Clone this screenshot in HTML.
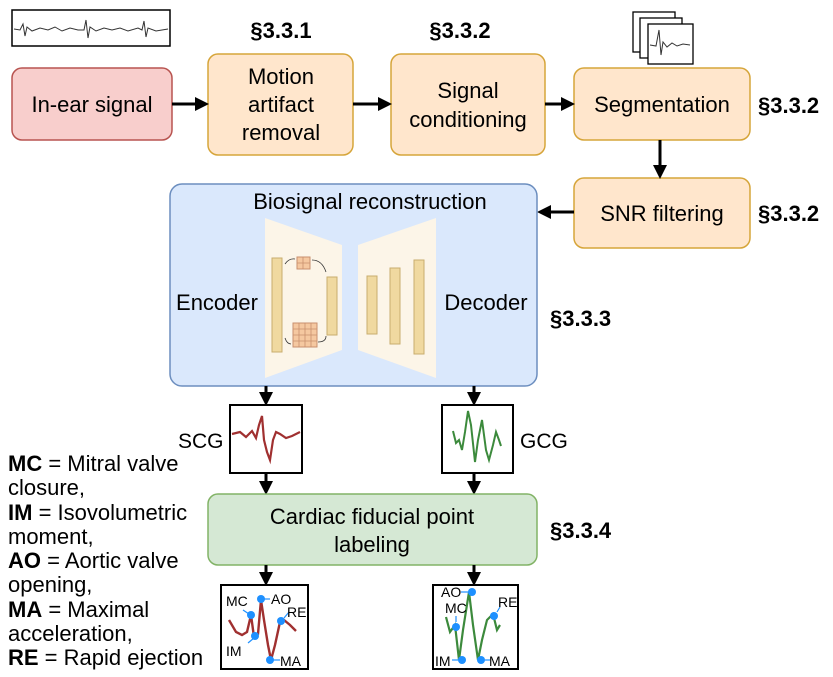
<!DOCTYPE html>
<html><head><meta charset="utf-8"><style>
html,body{margin:0;padding:0;background:#fff;}
svg{display:block;font-family:"Liberation Sans",sans-serif;}
</style></head><body>
<svg width="833" height="677" viewBox="0 0 833 677" xmlns="http://www.w3.org/2000/svg">
<defs>
<marker id="ah" markerWidth="14" markerHeight="14" refX="9" refY="7" orient="auto" markerUnits="userSpaceOnUse" viewBox="0 0 14 14">
<path d="M0,0 L14,7 L0,14 z" fill="#000"/></marker>
</defs>
<rect x="12" y="10" width="158" height="36" fill="#fff" stroke="#000" stroke-width="1.5"/>
<polyline fill="none" stroke="#333" stroke-width="1" points="14,29 20,30 23,24 25,36 27,27 32,31 40,28 48,30 55,27 62,31 70,28 78,30 84,30 86,20 88,38 90,27 96,31 104,28 112,30 120,28 128,31 138,28 142,30 144,21 146,37 148,28 156,31 168,29"/>
<rect x="633" y="12" width="42" height="40" fill="#fff" stroke="#000" stroke-width="1.3"/>
<rect x="640" y="18" width="42" height="40" fill="#fff" stroke="#000" stroke-width="1.3"/>
<rect x="648" y="24" width="45" height="40" fill="#fff" stroke="#000" stroke-width="1.3"/>
<polyline fill="none" stroke="#333" stroke-width="1" points="650,45 656,46 659,30 661,55 663,42 667,47 672,43 677,46 683,44 690,45"/>

<g font-size="22" font-weight="bold">
<text x="281" y="38" text-anchor="middle">§3.3.1</text>
<text x="460" y="38" text-anchor="middle">§3.3.2</text>
<text x="758" y="113">§3.3.2</text>
<text x="758" y="221">§3.3.2</text>
<text x="550" y="326">§3.3.3</text>
<text x="550" y="538">§3.3.4</text>
</g>

<g font-size="22" text-anchor="middle">
<rect x="12" y="68" width="160" height="72" rx="10" fill="#f8cecc" stroke="#b85450" stroke-width="1.5"/>
<text x="92" y="112">In-ear signal</text>
<rect x="208" y="54" width="145" height="101" rx="10" fill="#ffe6cc" stroke="#d6a53a" stroke-width="1.5"/>
<text x="281" y="84">Motion</text>
<text x="281" y="112">artifact</text>
<text x="281" y="140">removal</text>
<rect x="391" y="54" width="154" height="101" rx="10" fill="#ffe6cc" stroke="#d6a53a" stroke-width="1.5"/>
<text x="468" y="98">Signal</text>
<text x="468" y="127">conditioning</text>
<rect x="574" y="68" width="176" height="72" rx="10" fill="#ffe6cc" stroke="#d6a53a" stroke-width="1.5"/>
<text x="662" y="112">Segmentation</text>
<rect x="574" y="178" width="176" height="70" rx="10" fill="#ffe6cc" stroke="#d6a53a" stroke-width="1.5"/>
<text x="662" y="221">SNR filtering</text>
</g>

<line x1="172" y1="104" x2="204" y2="104" stroke="#000" stroke-width="3" marker-end="url(#ah)"/>
<line x1="353" y1="104" x2="387" y2="104" stroke="#000" stroke-width="3" marker-end="url(#ah)"/>
<line x1="545" y1="104" x2="570" y2="104" stroke="#000" stroke-width="3" marker-end="url(#ah)"/>
<line x1="660" y1="140" x2="660" y2="174" stroke="#000" stroke-width="3" marker-end="url(#ah)"/>
<line x1="574" y1="212" x2="542" y2="212" stroke="#000" stroke-width="3" marker-end="url(#ah)"/>

<rect x="170" y="184" width="367" height="202" rx="12" fill="#dae8fc" stroke="#6c8ebf" stroke-width="1.5"/>
<g font-size="22" text-anchor="middle">
<text x="370" y="209">Biosignal reconstruction</text>
<text x="217" y="310">Encoder</text>
<text x="486" y="310">Decoder</text>
</g>
<polygon points="265,218 342,245 342,350 265,378" fill="#fcf5e8"/>
<polygon points="358,245 436,218 436,378 358,350" fill="#fcf5e8"/>
<rect x="272" y="258" width="10" height="94" fill="#f0d9a0" stroke="#c9ad6e"/>
<rect x="327" y="277" width="10" height="58" fill="#f0d9a0" stroke="#c9ad6e"/>
<rect x="297" y="257" width="13" height="12" fill="#f5c8a0" stroke="#c9906e"/>
<rect x="293" y="323" width="24" height="24" fill="#f5c8a0" stroke="#c9906e"/>
<path d="M297,263 h13 M303,257 v12 M293,329 h24 M293,335 h24 M293,341 h24 M299,323 v24 M305,323 v24 M311,323 v24" stroke="#c9906e" stroke-width="0.8"/>
<path d="M285,264 q4,-6 10,-5 M312,260 q10,0 14,12 M285,338 q2,6 6,6 M318,342 q8,0 8,-6" fill="none" stroke="#333" stroke-width="0.8"/>
<rect x="367" y="276" width="10" height="58" fill="#f0d9a0" stroke="#c9ad6e"/>
<rect x="390" y="268" width="10" height="76" fill="#f0d9a0" stroke="#c9ad6e"/>
<rect x="414" y="260" width="10" height="94" fill="#f0d9a0" stroke="#c9ad6e"/>

<line x1="266" y1="386" x2="266" y2="401" stroke="#000" stroke-width="3" marker-end="url(#ah)"/>
<line x1="474" y1="386" x2="474" y2="401" stroke="#000" stroke-width="3" marker-end="url(#ah)"/>

<rect x="230" y="405" width="72" height="68" fill="#fff" stroke="#000" stroke-width="2"/>
<polyline fill="none" stroke="#a03030" stroke-width="2.2" points="232,434 240,432 246,437 252,431 256,438 259,425 262,416 264,440 267,452 270,460 273,440 276,432 280,434 286,438 292,436 300,432"/>
<text x="178" y="448" font-size="21">SCG</text>
<rect x="442" y="405" width="71" height="68" fill="#fff" stroke="#000" stroke-width="2"/>
<polyline fill="none" stroke="#3c8a3c" stroke-width="2" points="453,431 456,443 459,440 462,450 465,432 468,411 471,425 475,462 478,440 482,420 486,450 489,460 493,445 496,432 499,440 501,446"/>
<text x="520" y="448" font-size="21">GCG</text>

<line x1="266" y1="473" x2="266" y2="490" stroke="#000" stroke-width="3" marker-end="url(#ah)"/>
<line x1="474" y1="473" x2="474" y2="490" stroke="#000" stroke-width="3" marker-end="url(#ah)"/>

<rect x="208" y="494" width="329" height="71" rx="10" fill="#d5e8d4" stroke="#82b366" stroke-width="1.5"/>
<text x="372" y="524" font-size="22" text-anchor="middle">Cardiac fiducial point</text>
<text x="372" y="552" font-size="22" text-anchor="middle">labeling</text>

<line x1="266" y1="565" x2="266" y2="581" stroke="#000" stroke-width="3" marker-end="url(#ah)"/>
<line x1="474" y1="565" x2="474" y2="581" stroke="#000" stroke-width="3" marker-end="url(#ah)"/>

<rect x="221" y="585" width="87" height="84" fill="#fff" stroke="#000" stroke-width="2"/>
<polyline fill="none" stroke="#a03030" stroke-width="2.4" points="229,620 236,632 242,635 247,632 251,615 254,637 258,634 261,600 264,620 268,645 271,660 275,645 280,622 284,620 290,625 296,631"/>
<g fill="#1e90ff">
<circle cx="251" cy="615" r="4"/><circle cx="255" cy="636" r="4"/><circle cx="261" cy="599" r="4"/><circle cx="270" cy="660" r="4"/><circle cx="281" cy="621" r="4"/>
</g>
<g stroke="#1e90ff" stroke-width="1.2"><line x1="243" y1="610" x2="249" y2="614"/><line x1="248" y1="643" x2="254" y2="638"/><line x1="264" y1="599" x2="270" y2="599"/><line x1="273" y1="660" x2="280" y2="660"/><line x1="284" y1="618" x2="289" y2="612"/></g>
<g font-size="14"><text x="226" y="606">MC</text><text x="271" y="604">AO</text><text x="287" y="617">RE</text><text x="226" y="656">IM</text><text x="280" y="666">MA</text></g>

<rect x="433" y="585" width="85" height="84" fill="#fff" stroke="#000" stroke-width="2"/>
<polyline fill="none" stroke="#3c8a3c" stroke-width="2.2" points="446,617 450,632 455,625 459,660 463,630 469,592 473,625 478,660 482,640 487,620 493,614 497,630 500,625"/>
<g fill="#1e90ff">
<circle cx="456" cy="627" r="4"/><circle cx="462" cy="660" r="4"/><circle cx="472" cy="592" r="4"/><circle cx="481" cy="660" r="4"/><circle cx="494" cy="616" r="4"/>
</g>
<g stroke="#1e90ff" stroke-width="1.2"><line x1="456" y1="616" x2="456" y2="622"/><line x1="452" y1="660" x2="458" y2="660"/><line x1="461" y1="592" x2="468" y2="592"/><line x1="485" y1="660" x2="490" y2="660"/><line x1="497" y1="612" x2="500" y2="607"/></g>
<g font-size="14"><text x="441" y="597">AO</text><text x="445" y="613">MC</text><text x="498" y="607">RE</text><text x="435" y="666">IM</text><text x="489" y="666">MA</text></g>

<g font-size="22">
<text x="8" y="471"><tspan font-weight="bold">MC</tspan> = Mitral valve</text>
<text x="8" y="495">closure,</text>
<text x="8" y="520"><tspan font-weight="bold">IM</tspan> = Isovolumetric</text>
<text x="8" y="544">moment,</text>
<text x="8" y="568"><tspan font-weight="bold">AO</tspan> = Aortic valve</text>
<text x="8" y="592">opening,</text>
<text x="8" y="617"><tspan font-weight="bold">MA</tspan> = Maximal</text>
<text x="8" y="641">acceleration,</text>
<text x="8" y="665"><tspan font-weight="bold">RE</tspan> = Rapid ejection</text>
</g>
</svg>
</body></html>
